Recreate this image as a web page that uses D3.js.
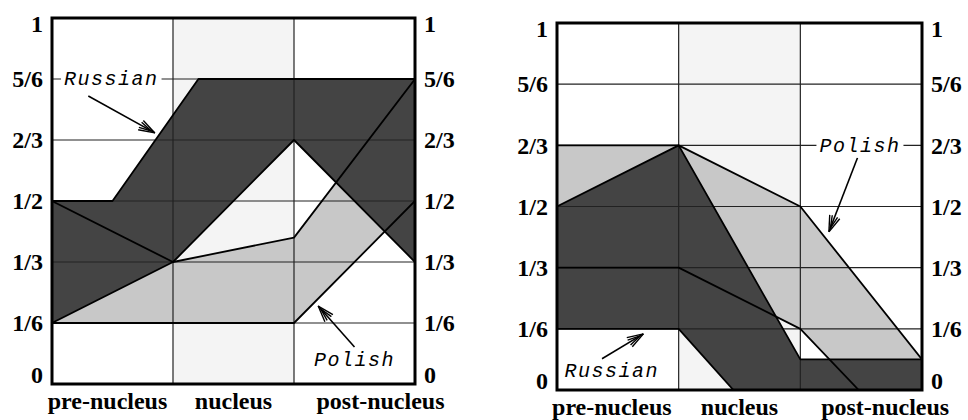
<!DOCTYPE html>
<html>
<head>
<meta charset="utf-8">
<script src="https://cdn.jsdelivr.net/npm/d3@7"></script>
<style>
  html, body { margin: 0; padding: 0; background: #fff; }
  svg { display: block; }
  .tick-label { font-family: "Liberation Serif", "Times New Roman", serif; font-weight: bold; font-size: 24px; }
  .note { font-family: "Liberation Mono", "Courier New", monospace; font-style: italic; font-size: 20px; letter-spacing: 1.5px; }
</style>
</head>
<body>
<svg id="chart" width="968" height="420"></svg>
<script>
// Utterance positions and the pitch-range scale
const columns = ["pre-nucleus", "nucleus", "post-nucleus"];
const tickValues = [0, 1/6, 1/3, 1/2, 2/3, 5/6, 1];
const tickLabels = ["0", "1/6", "1/3", "1/2", "2/3", "5/6", "1"];

// Left panel: upper and lower contour of each band, [position, value]
const leftRussianUpper = [[0, 1/2], [0.5, 1/2], [1.21, 5/6], [3, 5/6]];
const leftRussianLower = [[0, 1/6], [1, 1/3], [2, 2/3], [3, 1/3]];
const leftPolishUpper  = [[0, 1/2], [1, 1/3], [2, 0.4], [3, 5/6]];
const leftPolishLower  = [[0, 1/6], [2, 1/6], [3, 1/2]];

// Right panel
const rightRussianUpper = [[0, 1/2], [1, 2/3], [2, 1/12], [3, 1/12]];
const rightRussianLower = [[0, 1/6], [1, 1/6], [1.45, 0], [3, 0]];
const rightPolishUpper  = [[0, 2/3], [1, 2/3], [2, 1/2], [3, 1/12]];
const rightPolishLower  = [[0, 1/3], [1, 1/3], [2, 1/6], [2.48, 0], [3, 0]];

const svg = d3.select("#chart");

const COLORS = { russian: "#444444", polish: "#c8c8c8", nucleusBg: "#f4f4f4", grid: "#222" };

const panels = [
  {
    id: "L", left: 52, right: 415, top: 18, bottom: 384,
    russian: [leftRussianUpper, leftRussianLower],
    polish: [leftPolishUpper, leftPolishLower],
    notes: [
      { text: "Russian", at: [0.49, 5/6], from: [0.30, 0.787], to: [0.85, 0.686], box: true },
      { text: "Polish", at: [2.5, 0.068], from: [2.5, 0.101], to: [2.2, 0.213], box: false }
    ],
    labelShift: [-5, 0, 26]
  },
  {
    id: "R", left: 557, right: 922, top: 23, bottom: 390,
    russian: [rightRussianUpper, rightRussianLower],
    polish: [rightPolishUpper, rightPolishLower],
    notes: [
      { text: "Polish", at: [2.49, 2/3], from: [2.47, 0.633], to: [2.235, 0.431], box: true },
      { text: "Russian", at: [0.45, 0.052], from: [0.37, 0.085], to: [0.71, 0.153], box: false }
    ],
    labelShift: [-6, 0, 24]
  }
];

function drawArrow(g, p0, p1) {
  const ang = Math.atan2(p1[1] - p0[1], p1[0] - p0[0]);
  g.append("line")
    .attr("x1", p0[0]).attr("y1", p0[1]).attr("x2", p1[0]).attr("y2", p1[1])
    .attr("stroke", "#000").attr("stroke-width", 1.6);
  // sketched head: two pairs of barbs
  [[0, 17, 0.32], [4, 13, 0.22]].forEach(([back, len, spread]) => {
    const bx = p1[0] - back * Math.cos(ang), by = p1[1] - back * Math.sin(ang);
    [-1, 1].forEach(s => {
      const a = ang + Math.PI + s * spread;
      g.append("line")
        .attr("x1", bx).attr("y1", by)
        .attr("x2", bx + len * Math.cos(a)).attr("y2", by + len * Math.sin(a))
        .attr("stroke", "#000").attr("stroke-width", 1.4);
    });
  });
}

panels.forEach(p => {
  const x = d3.scaleLinear().domain([0, 3]).range([p.left, p.right]);
  const y = d3.scaleLinear().domain([0, 1]).range([p.bottom, p.top]);
  const band = d3.scaleBand().domain(columns).range([p.left, p.right]);
  const g = svg.append("g");

  // column backgrounds
  g.selectAll("rect.col").data(columns).join("rect")
    .attr("class", "col")
    .attr("x", d => band(d)).attr("y", p.top)
    .attr("width", band.bandwidth()).attr("height", p.bottom - p.top)
    .attr("fill", (d, i) => i === 1 ? COLORS.nucleusBg : "#fff");

  const clipId = "clip" + p.id;
  svg.append("defs").append("clipPath").attr("id", clipId)
    .append("rect").attr("x", p.left).attr("y", p.top)
    .attr("width", p.right - p.left).attr("height", p.bottom - p.top);

  const line = d3.line().x(d => x(d[0])).y(d => y(d[1]));
  const bandPath = ([upper, lower]) => line(upper.concat(lower.slice().reverse())) + "Z";

  const plot = g.append("g").attr("clip-path", `url(#${clipId})`);
  plot.append("path").attr("d", bandPath(p.polish)).attr("fill", COLORS.polish);
  plot.append("path").attr("d", bandPath(p.russian)).attr("fill", COLORS.russian);

  // grid
  plot.selectAll("line.h").data(tickValues.slice(1, -1)).join("line")
    .attr("x1", p.left).attr("x2", p.right)
    .attr("y1", d => y(d)).attr("y2", d => y(d))
    .attr("stroke", COLORS.grid).attr("stroke-width", 1.2);
  plot.selectAll("line.v").data(columns.slice(1)).join("line")
    .attr("x1", d => band(d)).attr("x2", d => band(d))
    .attr("y1", p.top).attr("y2", p.bottom)
    .attr("stroke", COLORS.grid).attr("stroke-width", 1.2);

  // band contours
  [...p.polish, ...p.russian].forEach(pts => {
    plot.append("path").attr("d", line(pts))
      .attr("fill", "none").attr("stroke", "#000")
      .attr("stroke-width", 1.8).attr("stroke-linejoin", "round");
  });

  // frame
  g.append("rect")
    .attr("x", p.left).attr("y", p.top)
    .attr("width", p.right - p.left).attr("height", p.bottom - p.top)
    .attr("fill", "none").attr("stroke", "#000").attr("stroke-width", 3);

  // y axes on both sides
  const fmt = (d, i) => tickLabels[i];
  const styleAxis = (ax) => {
    ax.attr("font-family", null).attr("font-size", null);
    ax.select(".domain").remove();
    ax.selectAll(".tick line").remove();
    ax.selectAll(".tick text")
      .attr("class", "tick-label").attr("fill", "#000")
      .attr("dy", d => d === 0 ? "-0.05em" : d === 1 ? "0.55em" : "0.32em");
  };
  g.append("g").attr("transform", `translate(${p.left},0)`)
    .call(d3.axisLeft(y).tickValues(tickValues).tickFormat(fmt).tickSize(0).tickPadding(9))
    .call(styleAxis);
  g.append("g").attr("transform", `translate(${p.right},0)`)
    .call(d3.axisRight(y).tickValues(tickValues).tickFormat(fmt).tickSize(0).tickPadding(9))
    .call(styleAxis);

  // x axis
  g.append("g").attr("transform", `translate(0,${p.bottom})`)
    .call(d3.axisBottom(band).tickSize(0).tickPadding(8))
    .call(ax => {
      ax.attr("font-family", null).attr("font-size", null);
      ax.select(".domain").remove();
      ax.selectAll(".tick text")
        .attr("class", "tick-label").attr("fill", "#000")
        .attr("dx", (d, i) => p.labelShift[i]);
    });

  // language annotations
  p.notes.forEach(n => {
    const ng = g.append("g");
    drawArrow(ng, [x(n.from[0]), y(n.from[1])], [x(n.to[0]), y(n.to[1])]);
    const bg = ng.append("rect").attr("fill", "#fff");
    const t = ng.append("text")
      .attr("class", "note")
      .attr("x", x(n.at[0])).attr("y", y(n.at[1]))
      .attr("text-anchor", "middle").attr("dy", "0.32em")
      .attr("fill", "#000").text(n.text);
    if (n.box) {
      const bb = t.node().getBBox();
      bg.attr("x", bb.x - 3).attr("y", bb.y).attr("width", bb.width + 6).attr("height", bb.height);
    } else {
      bg.remove();
    }
  });
});
</script>
</body>
</html>
